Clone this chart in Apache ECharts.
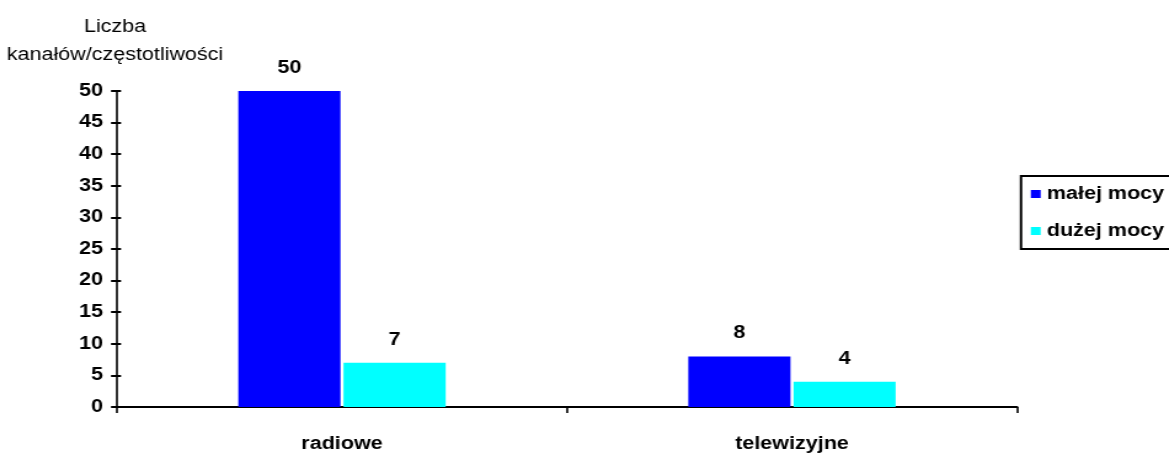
<!DOCTYPE html>
<html><head><meta charset="utf-8">
<script src="https://cdn.jsdelivr.net/npm/echarts@6/dist/echarts.min.js"></script>
<style>
html,body{margin:0;padding:0;background:#fff;overflow:hidden}
#wrap{width:1169px;height:454px;overflow:hidden;position:relative}
#c{width:950px;height:454px;transform:scaleX(1.2305);transform-origin:0 0;position:absolute;left:0;top:0}
</style>
</head><body><div id="wrap"><div id="c"></div></div>
<script>
const categories = ['radiowe', 'telewizyjne'];
const seriesNames = ['małej mocy', 'dużej mocy'];
const lowPower = [50, 8];
const highPower = [7, 4];
const yTicks = [0, 5, 10, 15, 20, 25, 30, 35, 40, 45, 50];
const yTitle = 'Liczba\nkanałów/częstotliwości';

const S = 1.2305; // horizontal stretch of the reference's text
const font = 'Liberation Sans, Arial, sans-serif';
const fs = 17.5;
const chart = echarts.init(document.getElementById('c'));
const labelCfg = { show: true, position: 'top', distance: 14, color: '#000', fontWeight: 'bold', fontSize: fs, fontFamily: font };
chart.setOption({
  animation: false,
  backgroundColor: '#fff',
  grid: { left: 117 / S, right: 152 / S, top: 91, bottom: 47, containLabel: false },
  graphic: [{ type: 'text', x: 115 / S, y: 13, style: { text: yTitle, font: fs + 'px ' + font, fill: '#000', align: 'center', verticalAlign: 'top', lineHeight: 28 } }],
  legend: {
    orient: 'vertical', left: 1021 / S, top: 176,
    data: seriesNames,
    icon: 'rect', itemWidth: 8, itemHeight: 8, itemGap: 19,
    padding: [9, 40, 9, 8],
    borderColor: '#000', borderWidth: 2,
    textStyle: { fontWeight: 'bold', fontSize: fs, fontFamily: font, color: '#000', lineHeight: 16 }
  },
  xAxis: {
    type: 'category', data: categories,
    axisLine: { lineStyle: { color: '#000', width: 2 } },
    axisTick: { show: true, inside: false, length: 6, lineStyle: { color: '#000', width: 1.6 } },
    axisLabel: { color: '#000', fontWeight: 'bold', fontSize: fs, fontFamily: font, margin: 28 }
  },
  yAxis: [{
    type: 'value', min: 0, max: 50, interval: 5,
    axisLine: { show: true, lineStyle: { color: '#000', width: 1.6 } },
    axisTick: { show: true, inside: false, length: 6 / S, lineStyle: { color: '#000', width: 2 } },
    axisLabel: { color: '#000', fontWeight: 'bold', fontSize: fs, fontFamily: font, margin: 14 / S,
      formatter: v => yTicks.includes(v) ? String(v) : '' },
    splitLine: { show: false }
  }, {
    type: 'value', min: 0, max: 50, interval: 5, position: 'left',
    axisLine: { show: false },
    axisTick: { show: true, inside: true, length: 4 / S, lineStyle: { color: '#000', width: 2 } },
    axisLabel: { show: false }, splitLine: { show: false }
  }],
  series: [
    { name: seriesNames[0], type: 'bar', data: lowPower, barWidth: '22.7%', barGap: '3%', itemStyle: { color: '#0000FF' }, label: labelCfg },
    { name: seriesNames[1], type: 'bar', data: highPower, barWidth: '22.7%', barGap: '3%', itemStyle: { color: '#00FFFF' }, label: labelCfg }
  ]
});
</script></body></html>
